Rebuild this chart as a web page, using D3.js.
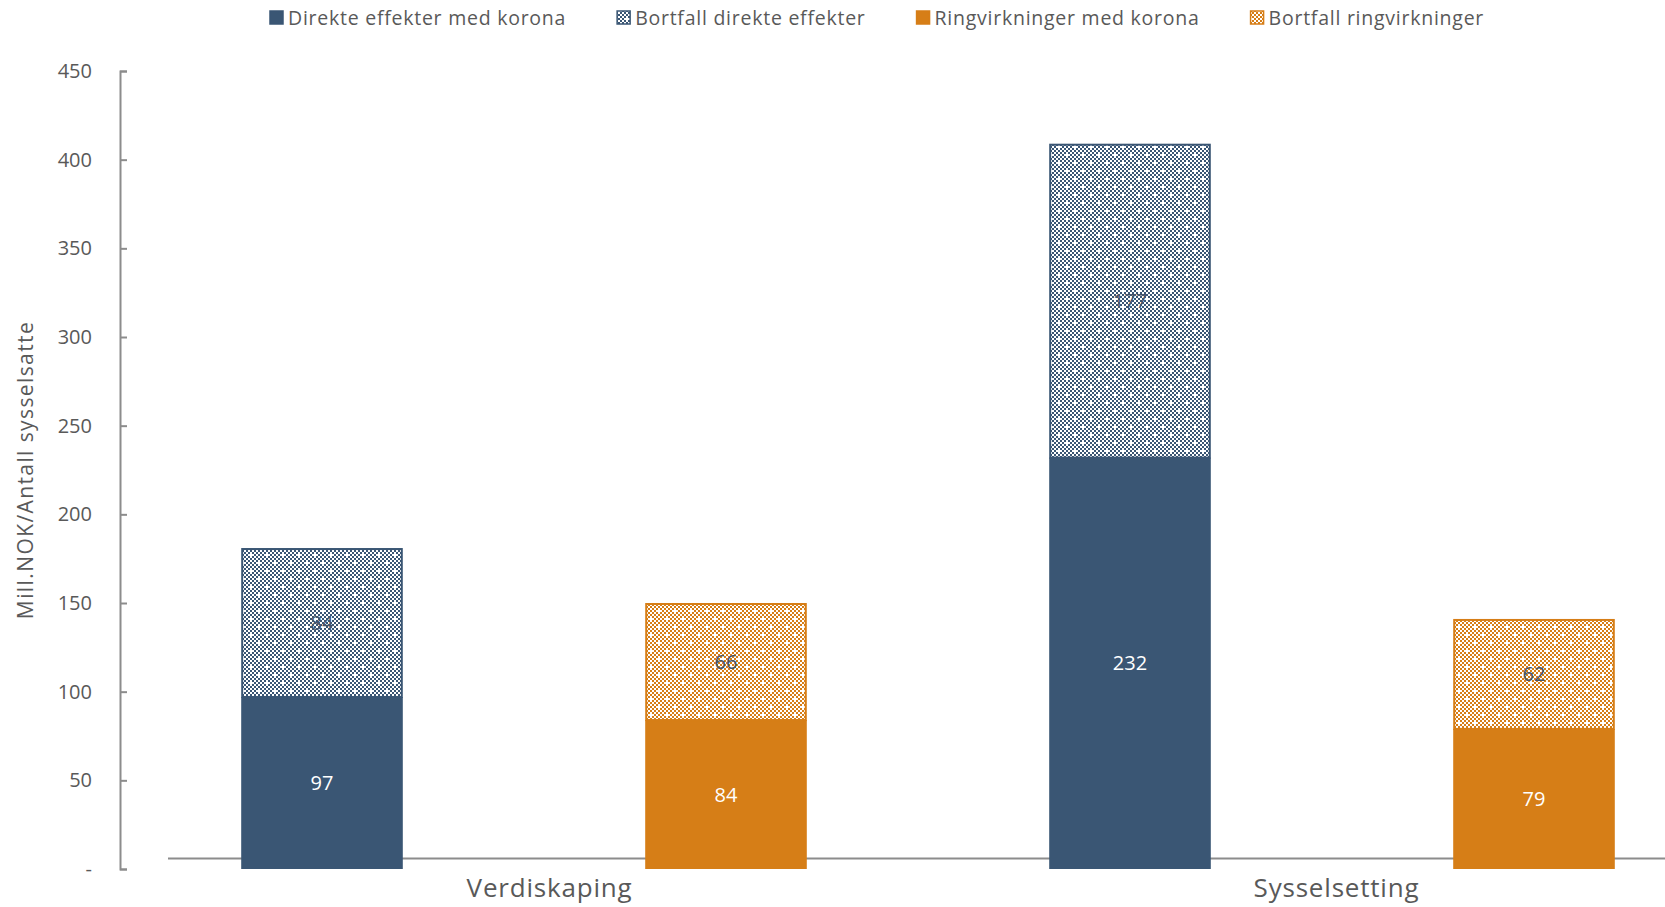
<!DOCTYPE html>
<html>
<head>
<meta charset="utf-8">
<script src="https://cdn.jsdelivr.net/npm/d3@7"></script>
<style>
  html, body { margin: 0; padding: 0; background: #fff; }
  svg { display: block; font-family: "Open Sans", sans-serif; }
</style>
</head>
<body>
<svg id="chart" width="1665" height="907"></svg>
<script>
// ---- data ----
const categories = ["Verdiskaping", "Sysselsetting"];
const seriesNames = ["Direkte effekter med korona", "Bortfall direkte effekter", "Ringvirkninger med korona", "Bortfall ringvirkninger"];
const direkteMedKorona = [97, 232];
const bortfallDirekte = [84, 177];
const ringMedKorona = [84, 79];
const bortfallRing = [66, 62];
const yTicks = [0, 50, 100, 150, 200, 250, 300, 350, 400, 450];
const yTitle = "Mill.NOK/Antall sysselsatte";

// ---- styles ----
const BLUE = "#3A5674";
const ORANGE = "#D67E17";
const LABEL_DARK = "#44546A";
const AXIS = "#8C8C8C";
const TEXT = "#595959";

const W = 1665, H = 907;
const svg = d3.select("#chart");
const defs = svg.append("defs");

function makePattern(id, color) {
  const n = 8, c = 2;
  const p = defs.append("pattern").attr("id", id)
    .attr("patternUnits", "userSpaceOnUse").attr("width", n * c).attr("height", n * c);
  p.append("rect").attr("width", n * c).attr("height", n * c).attr("fill", "#fff");
  const holes = [[1, 1], [5, 5]];
  for (let i = 0; i < n; i++) for (let j = 0; j < n; j++) {
    if ((i + j) % 2 !== 0) continue;
    if (holes.some(h => h[0] === i && h[1] === j)) continue;
    p.append("rect").attr("x", i * c).attr("y", j * c).attr("width", c).attr("height", c).attr("fill", color);
  }
}
makePattern("patBlue", BLUE);
makePattern("patOrange", ORANGE);

const seriesFill = [BLUE, "url(#patBlue)", ORANGE, "url(#patOrange)"];
const seriesStroke = [BLUE, BLUE, ORANGE, ORANGE];

const bars = [];
categories.forEach((c, ci) => {
  bars.push({ key: c + "|D", cat: ci, base: direkteMedKorona[ci], top: bortfallDirekte[ci], s0: 0, s1: 1 });
  bars.push({ key: c + "|R", cat: ci, base: ringMedKorona[ci], top: bortfallRing[ci], s0: 2, s1: 3 });
});

const y = d3.scaleLinear().domain([0, 450]).range([869, 71]);
const x = d3.scaleBand().domain(bars.map(b => b.key)).range([120, 1736])
  .paddingInner(0.6).paddingOuter(0.3);
const xCat = d3.scaleBand().domain(categories).range([156, 1730]);

// category baseline line
svg.append("line").attr("x1", 168).attr("x2", W).attr("y1", 858.5).attr("y2", 858.5)
  .attr("stroke", AXIS).attr("stroke-width", 2);

// bars
const g = svg.append("g");
bars.forEach(b => {
  const x0 = x(b.key), bw = x.bandwidth();
  g.append("rect").attr("x", x0).attr("width", bw)
    .attr("y", y(b.base)).attr("height", y(0) - y(b.base))
    .attr("fill", seriesFill[b.s0]);
  g.append("rect").attr("x", x0 + 1).attr("width", bw - 2)
    .attr("y", y(b.base + b.top) + 1).attr("height", y(b.base) - y(b.base + b.top) - 1)
    .attr("fill", seriesFill[b.s1]).attr("stroke", seriesStroke[b.s1]).attr("stroke-width", 2);
  g.append("text").attr("x", x0 + bw / 2).attr("y", (y(0) + y(b.base)) / 2)
    .attr("text-anchor", "middle").attr("dy", "0.35em")
    .attr("font-size", 20).attr("fill", "#fff").text(b.base);
  g.append("text").attr("x", x0 + bw / 2).attr("y", (y(b.base) + y(b.base + b.top)) / 2)
    .attr("text-anchor", "middle").attr("dy", "0.35em")
    .attr("font-size", 20).attr("fill", LABEL_DARK).text(b.top);
});

// y axis
const yAxis = d3.axisLeft(y).tickValues(yTicks).tickSizeInner(-7).tickSizeOuter(-7)
  .tickPadding(28).tickFormat(d => d === 0 ? "-" : d);
const ya = svg.append("g").attr("transform", "translate(120,0)").call(yAxis);
ya.select(".domain").attr("stroke", AXIS).attr("stroke-width", 2);
ya.selectAll(".tick line").attr("stroke", AXIS).attr("stroke-width", 2);
ya.selectAll(".tick text").attr("fill", TEXT).attr("font-size", 20)
  .attr("font-family", "Open Sans, sans-serif");

// y title
svg.append("text").attr("transform", "translate(26,470) rotate(-90)")
  .attr("text-anchor", "middle").attr("dy", "0.35em")
  .attr("font-size", 21).attr("letter-spacing", 1.4).attr("fill", TEXT).text(yTitle);

// category labels
categories.forEach(c => {
  svg.append("text").attr("x", xCat(c) + xCat.bandwidth() / 2).attr("y", 897)
    .attr("text-anchor", "middle").attr("font-size", 26).attr("letter-spacing", 0.8)
    .attr("fill", TEXT).text(c);
});

// legend
const leg = svg.append("g");
let lx = 269;
seriesNames.forEach((s, i) => {
  leg.append("rect").attr("x", lx + 1).attr("y", 11).attr("width", 13).attr("height", 13)
    .attr("fill", seriesFill[i]).attr("stroke", seriesStroke[i]).attr("stroke-width", 1.5);
  const t = leg.append("text").attr("x", lx + 19).attr("y", 18).attr("dy", "0.35em")
    .attr("font-size", 19.5).attr("letter-spacing", 0.75).attr("fill", TEXT).text(s);
  lx += 19 + t.node().getComputedTextLength() + 50;
});
</script>
</body>
</html>
